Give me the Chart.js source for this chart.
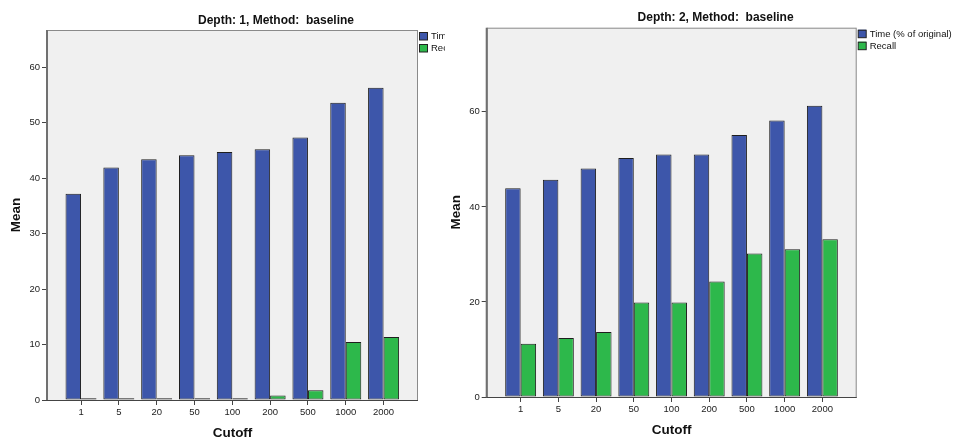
<!DOCTYPE html>
<html>
<head>
<meta charset="utf-8">
<script src="https://cdn.jsdelivr.net/npm/chart.js@4/dist/chart.umd.min.js"></script>
<style>
  body { margin: 0; background: #fff; }
  #wrap { position: relative; width: 955px; height: 440px; overflow: hidden; }
  canvas { position: absolute; top: 0; }
  #c1 { left: 0; }
  #c2 { left: 446px; }
</style>
</head>
<body>
<div id="wrap">
  <canvas id="c1" width="445" height="440"></canvas>
  <canvas id="c2" width="509" height="440"></canvas>
</div>
<script>
// data
const cutoffs = ['1', '5', '20', '50', '100', '200', '500', '1000', '2000'];
const seriesNames = ['Time (% of original)', 'Recall'];
const timeDepth1 = [37.2, 41.9, 43.4, 44.1, 44.7, 45.2, 47.3, 53.6, 56.3];
const recallDepth1 = [0.3, 0.3, 0.3, 0.3, 0.3, 0.8, 1.75, 10.45, 11.35];
const timeDepth2 = [43.9, 45.7, 48.1, 50.3, 51.0, 51.0, 55.1, 58.2, 61.3];
const recallDepth2 = [11.2, 12.4, 13.7, 19.9, 19.9, 24.3, 30.2, 31.1, 33.2];
const yTicksDepth1 = [0, 10, 20, 30, 40, 50, 60];
const yTicksDepth2 = [0, 20, 40, 60];

const BLUE = '#3d56aa';
const GREEN = '#2db84b';
const FONT = "'Liberation Sans', Arial, sans-serif";

// plot background, frame, title and legend
const spssLook = {
    id: 'spssLook',
    beforeDraw(chart) {
        const a = chart.chartArea, ctx = chart.ctx;
        ctx.save();
        ctx.fillStyle = '#f0f0f0';
        ctx.fillRect(a.left, a.top, a.right - a.left, a.bottom - a.top);
        ctx.restore();
    },
    afterDraw(chart, args, opts) {
        const a = chart.chartArea, ctx = chart.ctx;
        ctx.save();
        ctx.strokeStyle = '#8a8a8a';
        ctx.lineWidth = 1;
        ctx.strokeRect(a.left + 0.5, a.top + 0.5, a.right - a.left - 1, a.bottom - a.top);
        ctx.strokeStyle = '#707070';
        ctx.lineWidth = 2;
        ctx.beginPath();
        ctx.moveTo(a.left, a.top);
        ctx.lineTo(a.left, a.bottom);
        ctx.stroke();
        ctx.strokeStyle = '#444';
        ctx.lineWidth = 1;
        ctx.beginPath();
        ctx.moveTo(a.left, a.bottom + 0.5);
        ctx.lineTo(a.right, a.bottom + 0.5);
        ctx.stroke();

        // title
        ctx.fillStyle = '#111';
        ctx.font = 'bold 12px ' + FONT;
        ctx.textAlign = 'center';
        ctx.textBaseline = 'alphabetic';
        ctx.fillText(opts.title, opts.titleX, a.top - 6.5);

        // legend
        ctx.font = '9.5px ' + FONT;
        ctx.textAlign = 'left';
        ctx.textBaseline = 'middle';
        chart.data.datasets.forEach((ds, i) => {
            const y = a.top + 2 + i * 12;
            ctx.fillStyle = ds.backgroundColor;
            ctx.fillRect(a.right + 1.5, y, 8, 8);
            ctx.strokeStyle = '#222';
            ctx.strokeRect(a.right + 1.5, y + 0.5, 8, 7.5);
            ctx.fillStyle = '#111';
            ctx.fillText(ds.label, a.right + 13, y + 4.5);
        });
        ctx.restore();
    }
};

function makeChart(id, time, recall, yTicks, cfg) {
    const toPoints = arr => arr.map((v, i) => ({ x: i, y: v }));
    return new Chart(document.getElementById(id), {
        type: 'bar',
        data: {
            datasets: [{
                label: seriesNames[0],
                data: toPoints(time),
                backgroundColor: BLUE,
                borderColor: '#1e1e1e',
                borderWidth: 1,
                borderSkipped: false
            }, {
                label: seriesNames[1],
                data: toPoints(recall),
                backgroundColor: GREEN,
                borderColor: '#1e1e1e',
                borderWidth: 1,
                borderSkipped: false
            }]
        },
        options: {
            responsive: false,
            animation: false,
            categoryPercentage: 0.82,
            barPercentage: 1,
            layout: { padding: cfg.padding },
            plugins: {
                legend: { display: false },
                tooltip: { enabled: false },
                title: { display: false },
                spssLook: { title: cfg.title, titleX: cfg.titleX }
            },
            scales: {
                x: {
                    type: 'linear',
                    offset: false,
                    min: -0.9,
                    max: cutoffs.length - 1 + 0.91,
                    afterBuildTicks: s => { s.ticks = cutoffs.map((c, i) => ({ value: i })); },
                    afterFit: s => { s.height = cfg.xHeight; },
                    ticks: {
                        autoSkip: false,
                        maxRotation: 0,
                        padding: 2,
                        color: '#222',
                        font: { family: FONT, size: 9.5 },
                        callback: v => cutoffs[v]
                    },
                    grid: { drawOnChartArea: false, offset: false, tickLength: 5, tickColor: '#444' },
                    border: { display: false },
                    title: {
                        display: true,
                        text: 'Cutoff',
                        color: '#111',
                        font: { family: FONT, size: 13.5, weight: 'bold', lineHeight: 1 },
                        padding: { top: 0, bottom: cfg.xTitlePad }
                    }
                },
                y: {
                    min: 0,
                    max: cfg.yMax,
                    afterBuildTicks: s => { s.ticks = yTicks.map(v => ({ value: v })); },
                    afterFit: s => { s.width = cfg.yWidth; },
                    ticks: {
                        padding: 2,
                        color: '#222',
                        font: { family: FONT, size: 9.5 }
                    },
                    grid: { drawOnChartArea: false, tickLength: 5, tickColor: '#444' },
                    border: { display: false },
                    title: {
                        display: true,
                        text: 'Mean',
                        color: '#111',
                        font: { family: FONT, size: 13.5, weight: 'bold', lineHeight: 1 },
                        padding: { top: cfg.yTitlePad, bottom: 0 }
                    }
                }
            }
        },
        plugins: [spssLook]
    });
}

makeChart('c1', timeDepth1, recallDepth1, yTicksDepth1, {
    title: 'Depth: 1, Method:  baseline',
    titleX: 276,
    padding: { left: 0, top: 30, right: 27, bottom: 0 },
    xHeight: 40,
    yWidth: 47,
    yMax: 66.7,
    xTitlePad: 0.3,
    yTitlePad: 9.2
});

makeChart('c2', timeDepth2, recallDepth2, yTicksDepth2, {
    title: 'Depth: 2, Method:  baseline',
    titleX: 269.6,
    padding: { left: 0, top: 27.7, right: 98.3, bottom: 0 },
    xHeight: 43,
    yWidth: 40.7,
    yMax: 77.7,
    xTitlePad: 2.5,
    yTitlePad: 3.2
});
</script>
</body>
</html>
